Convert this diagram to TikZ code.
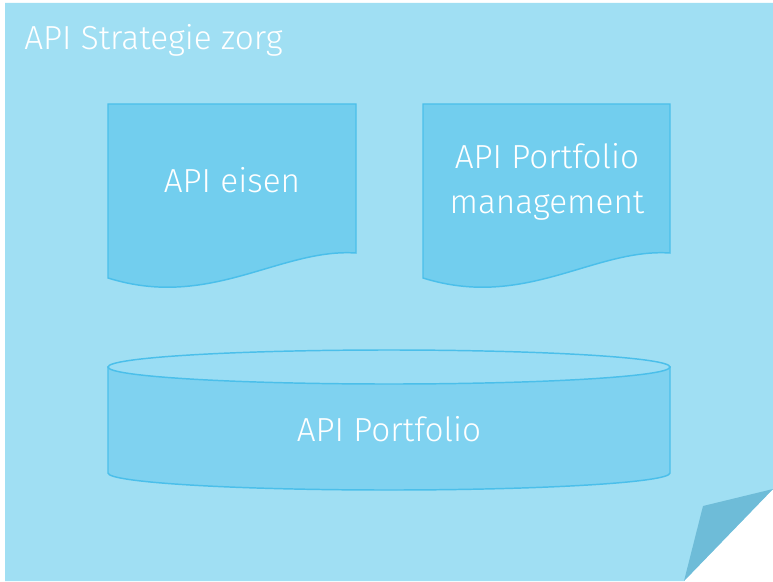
\documentclass[tikz,border=0pt]{standalone}
\usepackage{fontspec}
\setmainfont{Fira Sans Light}
\definecolor{notebg}{HTML}{A0DFF3}
\definecolor{notefold}{HTML}{6EBCD8}
\definecolor{docfill}{HTML}{72CEEE}
\definecolor{docline}{HTML}{4BBFEA}
\definecolor{cylfill}{HTML}{7FD2F0}
\definecolor{cyltop}{HTML}{9ADDF4}
\tikzset{
  doctext/.style={white, font=\fontsize{25}{34}\selectfont, align=center}
}
\begin{document}
\begin{tikzpicture}[x=0.75pt, y=-0.75pt]
    \useasboundingbox (0,0) rectangle (773,581);
    \fill[notebg] (5,3) -- (773,3) -- (773,489) -- (684,581) -- (5,581) -- cycle;
    \fill[notefold] (684,581) -- (703,506) -- (773,489) -- cycle;
    \node[doctext, anchor=base west, inner sep=0pt] (title) at (24,50) {API Strategie zorg};
    % documents
    \filldraw[docfill, draw=docline, line width=1.1pt] (108,104) -- (356,104) -- (356,253) .. controls (280,248) and (210,310) .. (108,278) -- cycle;
    \node[doctext, anchor=base] (eisen) at (232,192) {API eisen};
    \filldraw[docfill, draw=docline, line width=1.1pt] (423,104) -- (670,104) -- (670,253) .. controls (594,248) and (525,310) .. (423,278) -- cycle;
    \node[doctext] (mgmt) at (547,182) {API Portfolio\\management};
    % portfolio cylinder
    \filldraw[cylfill, draw=docline, line width=1.1pt] (108,367) -- (108,473) arc[start angle=180, end angle=0, x radius=281, y radius=17] -- (670,367) -- cycle;
    \filldraw[cyltop, draw=docline, line width=1.1pt] (389,367) ellipse[x radius=281, y radius=17];
    \node[doctext, anchor=base] (portfolio) at (389,441) {API Portfolio};
  \end{tikzpicture}
\end{document}
